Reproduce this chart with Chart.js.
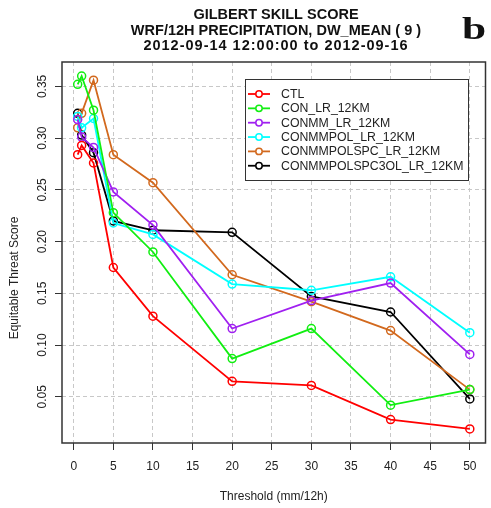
<!DOCTYPE html>
<html>
<head>
<meta charset="utf-8">
<script src="https://cdn.jsdelivr.net/npm/chart.js@4.4.1/dist/chart.umd.min.js"></script>
<style>
  html, body { margin: 0; padding: 0; background: #fff; }
  canvas { display: block; }
</style>
</head>
<body>
<canvas id="gssChart" width="491" height="508"></canvas>
<script>
const thresholds = [0.5, 1, 2.5, 5, 10, 20, 30, 40, 50];

const ctl            = [0.284, 0.293, 0.276, 0.175, 0.128, 0.065, 0.061, 0.028, 0.019];
const conLr          = [0.352, 0.360, 0.327, 0.228, 0.190, 0.087, 0.116, 0.042, 0.057];
const conmmLr        = [0.318, 0.301, 0.291, 0.248, 0.216, 0.116, 0.143, 0.160, 0.091];
const conmmpolLr     = [0.321, 0.310, 0.319, 0.218, 0.207, 0.159, 0.153, 0.166, 0.112];
const conmmpolspcLr  = [0.310, 0.324, 0.356, 0.284, 0.257, 0.168, 0.142, 0.114, 0.057];
const conmmpolspc3ol = [0.324, 0.303, 0.286, 0.220, 0.211, 0.209, 0.147, 0.132, 0.048];

const seriesNames = ['CTL', 'CON_LR_12KM', 'CONMM_LR_12KM', 'CONMMPOL_LR_12KM',
                     'CONMMPOLSPC_LR_12KM', 'CONMMPOLSPC3OL_LR_12KM'];
const seriesValues = [ctl, conLr, conmmLr, conmmpolLr, conmmpolspcLr, conmmpolspc3ol];
const seriesColors = ['#ff0000', '#11ee11', '#a020f0', '#00ffff', '#d2691e', '#000000'];

const xTicks = [0, 5, 10, 15, 20, 25, 30, 35, 40, 45, 50];
const yTicks = [0.05, 0.10, 0.15, 0.20, 0.25, 0.30, 0.35];

const titleLines = ['GILBERT SKILL SCORE',
                    'WRF/12H PRECIPITATION, DW_MEAN ( 9 )',
                    '2012-09-14 12:00:00 to 2012-09-16'];

const sans = '"Liberation Sans", Arial, Helvetica, sans-serif';
const gridColor = '#c8c8c8';
const axisColor = '#333';

const datasets = seriesNames.map((name, i) => ({
    label: name,
    data: thresholds.map((t, j) => ({ x: t, y: seriesValues[i][j] })),
    showLine: true,
    borderColor: seriesColors[i],
    backgroundColor: 'transparent',
    borderWidth: 1.8,
    pointRadius: 4,
    pointBorderWidth: 1.5,
    pointBackgroundColor: 'transparent',
    pointBorderColor: seriesColors[i]
}));

// frame, titles, rotated y labels and the inset legend
const decorations = {
    id: 'decorations',
    afterDraw(chart) {
        const ctx = chart.ctx;
        const area = chart.chartArea;
        const yScale = chart.scales.y;
        ctx.save();

        ctx.strokeStyle = axisColor;
        ctx.lineWidth = 1.5;
        ctx.strokeRect(area.left, area.top, area.right - area.left, area.bottom - area.top);

        // title
        ctx.fillStyle = '#111';
        ctx.textAlign = 'center';
        ctx.textBaseline = 'middle';
        ctx.font = 'bold 14.5px ' + sans;
        ctx.fillText(titleLines[0], 276, 15);
        ctx.fillText(titleLines[1], 276, 30.5);
        ctx.letterSpacing = '1px';
        ctx.fillText(titleLines[2], 276, 45.8);
        ctx.letterSpacing = '0px';

        // panel letter, wide bold serif
        ctx.save();
        ctx.translate(462, 39);
        ctx.scale(1.4, 1);
        ctx.font = 'bold 31px "Liberation Serif", "DejaVu Serif", serif';
        ctx.textAlign = 'left';
        ctx.textBaseline = 'alphabetic';
        ctx.fillText('b', 0, 0);
        ctx.restore();

        // y tick labels, vertical like R
        ctx.font = '12px ' + sans;
        ctx.fillStyle = '#222';
        ctx.textAlign = 'center';
        ctx.textBaseline = 'middle';
        yScale.ticks.forEach(t => {
            const py = yScale.getPixelForValue(t.value);
            ctx.save();
            ctx.translate(43, py);
            ctx.rotate(-Math.PI / 2);
            ctx.fillText(t.value.toFixed(2), 0, 0);
            ctx.restore();
        });

        ctx.save();
        ctx.translate(15, 278);
        ctx.rotate(-Math.PI / 2);
        ctx.fillText('Equitable Threat Score', 0, 0);
        ctx.restore();

        // legend
        const lx = 245, ly = 79, lw = 223, lh = 101;
        ctx.fillStyle = '#fff';
        ctx.fillRect(lx, ly, lw, lh);
        ctx.strokeStyle = axisColor;
        ctx.lineWidth = 1;
        ctx.strokeRect(lx + 0.5, ly + 0.5, lw, lh);
        ctx.textAlign = 'left';
        ctx.font = '12.3px ' + sans;
        chart.data.datasets.forEach((ds, i) => {
            const ey = 94 + i * 14.35;
            ctx.strokeStyle = ds.borderColor;
            ctx.lineWidth = 1.8;
            ctx.beginPath();
            ctx.moveTo(248, ey);
            ctx.lineTo(270, ey);
            ctx.stroke();
            ctx.lineWidth = 1.5;
            ctx.fillStyle = '#fff';
            ctx.beginPath();
            ctx.arc(259, ey, 3.2, 0, Math.PI * 2);
            ctx.fill();
            ctx.stroke();
            ctx.fillStyle = '#222';
            ctx.fillText(ds.label, 281, ey + 0.5);
        });

        ctx.restore();
    }
};

const ctx = document.getElementById('gssChart').getContext('2d');
new Chart(ctx, {
    type: 'scatter',
    data: { datasets: datasets },
    options: {
        responsive: false,
        animation: false,
        layout: { padding: { top: 62, right: 1, left: 0, bottom: 0 } },
        plugins: {
            legend: { display: false },
            tooltip: { enabled: false },
            title: { display: false }
        },
        scales: {
            x: {
                type: 'linear',
                min: -1.48,
                max: 51.98,
                afterBuildTicks: s => { s.ticks = xTicks.map(v => ({ value: v })); },
                afterFit: s => { s.height = 65; },
                grid: {
                    color: gridColor,
                    lineWidth: 1,
                    tickLength: 7,
                    tickColor: axisColor,
                    tickWidth: 1,
                    tickBorderDash: []
                },
                border: { display: false, dash: [4, 3] },
                ticks: {
                    color: '#222',
                    font: { family: sans, size: 12 },
                    padding: 9,
                    maxRotation: 0,
                    autoSkip: false
                },
                title: {
                    display: true,
                    text: 'Threshold (mm/12h)',
                    color: '#222',
                    font: { family: sans, size: 12 },
                    padding: { top: 4, bottom: 4 }
                }
            },
            y: {
                type: 'linear',
                min: 0.0054,
                max: 0.3736,
                afterBuildTicks: s => { s.ticks = yTicks.map(v => ({ value: v })); },
                afterFit: s => { s.width = 62; },
                grid: {
                    color: gridColor,
                    lineWidth: 1,
                    tickLength: 7,
                    tickColor: axisColor,
                    tickWidth: 1,
                    tickBorderDash: []
                },
                border: { display: false, dash: [4, 3] },
                ticks: { display: false }
            }
        }
    },
    plugins: [decorations]
});
</script>
</body>
</html>
